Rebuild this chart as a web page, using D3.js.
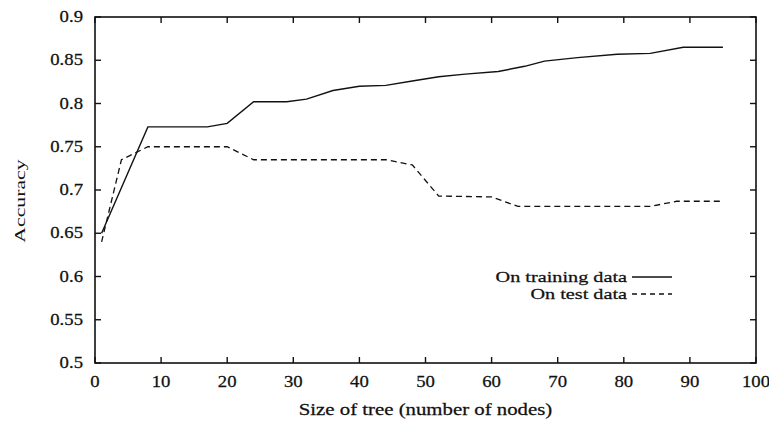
<!DOCTYPE html>
<html>
<head>
<meta charset="utf-8">
<script src="https://cdn.jsdelivr.net/npm/d3@7"></script>
<style>
  html, body { margin: 0; padding: 0; background: #fff; }
</style>
</head>
<body>
<svg id="chart" width="769" height="421" font-family="'Liberation Serif', 'Times New Roman', 'DejaVu Serif', serif"></svg>
<script>
// ---- data ----
const trainX = [1, 8, 17, 20, 24, 29, 32, 36, 40, 44, 48, 52, 56, 61, 65, 68, 73, 79, 84, 89, 95];
const trainY = [0.65, 0.773, 0.773, 0.777, 0.802, 0.802, 0.805, 0.815, 0.820, 0.821, 0.826, 0.831, 0.834, 0.837, 0.843, 0.849, 0.853, 0.857, 0.858, 0.865, 0.865];
const testX = [1, 4, 8, 20, 24, 44, 48, 52, 60, 64, 84, 88, 95];
const testY = [0.640, 0.735, 0.750, 0.750, 0.735, 0.735, 0.729, 0.693, 0.692, 0.681, 0.681, 0.687, 0.687];
const xTicks = [0, 10, 20, 30, 40, 50, 60, 70, 80, 90, 100];
const yTicks = [0.5, 0.55, 0.6, 0.65, 0.7, 0.75, 0.8, 0.85, 0.9];
const legendLabels = ["On training data", "On test data"];
const xTitle = "Size of tree (number of nodes)";
const yTitle = "Accuracy";

// ---- layout ----
const L = 95, R = 756, T = 17, B = 363;
const ink = "#111";
const FONT = "'Liberation Serif', 'Times New Roman', 'DejaVu Serif', serif";

const svg = d3.select("#chart");
const x = d3.scaleLinear().domain([0, 100]).range([L, R]);
const y = d3.scaleLinear().domain([0.5, 0.9]).range([B, T]);

function stretchedText(g, tx, ty, str, anchor, size, sx) {
  return g.append("text")
    .attr("transform", `translate(${tx},${ty}) scale(${sx},1)`)
    .attr("text-anchor", anchor)
    .attr("font-family", FONT)
    .attr("font-size", size)
    .attr("fill", ink)
    .attr("stroke", ink)
    .attr("stroke-width", 0.25)
    .text(str);
}

// frame
svg.append("rect").attr("x", L).attr("y", T).attr("width", R - L).attr("height", B - T)
  .attr("fill", "none").attr("stroke", ink).attr("stroke-width", 1.6);

// ticks (inward, mirrored)
const tk = 6;
const tg = svg.append("g").attr("stroke", ink).attr("stroke-width", 1.4);
xTicks.forEach(v => {
  tg.append("line").attr("x1", x(v)).attr("x2", x(v)).attr("y1", B).attr("y2", B - tk);
  tg.append("line").attr("x1", x(v)).attr("x2", x(v)).attr("y1", T).attr("y2", T + tk);
});
yTicks.forEach(v => {
  tg.append("line").attr("x1", L).attr("x2", L + tk).attr("y1", y(v)).attr("y2", y(v));
  tg.append("line").attr("x1", R).attr("x2", R - tk).attr("y1", y(v)).attr("y2", y(v));
});

// tick labels
const lg = svg.append("g");
xTicks.forEach(v => stretchedText(lg, x(v), 387, String(v), "middle", 16, 1.17));
yTicks.forEach(v => stretchedText(lg, 83, y(v) + 5, String(v), "end", 16, 1.17));

// axis titles
stretchedText(svg, (L + R) / 2, 415, xTitle, "middle", 16, 1.3);
svg.append("text")
  .attr("transform", `translate(25,201) rotate(-90) scale(1.45,1)`)
  .attr("text-anchor", "middle")
  .attr("font-family", FONT)
  .attr("font-size", 15)
  .attr("fill", ink)
  .text(yTitle);

// lines
const line = d3.line().x(d => x(d[0])).y(d => y(d[1]));
const trainData = trainX.map((v, i) => [v, trainY[i]]);
const testData = testX.map((v, i) => [v, testY[i]]);

svg.append("path").datum(trainData).attr("d", line)
  .attr("fill", "none").attr("stroke", ink).attr("stroke-width", 1.4);
svg.append("path").datum(testData).attr("d", line)
  .attr("fill", "none").attr("stroke", ink).attr("stroke-width", 1.3)
  .attr("stroke-dasharray", "6,4");

// legend
const legY = [277, 294];
const leg = svg.append("g");
legendLabels.forEach((s, i) => {
  stretchedText(leg, 627, legY[i] + 5, s, "end", 15, 1.35);
  leg.append("line").attr("x1", 632).attr("x2", 672)
    .attr("y1", legY[i]).attr("y2", legY[i])
    .attr("stroke", ink).attr("stroke-width", 1.3)
    .attr("stroke-dasharray", i === 0 ? null : "5,4");
});
</script>
</body>
</html>
